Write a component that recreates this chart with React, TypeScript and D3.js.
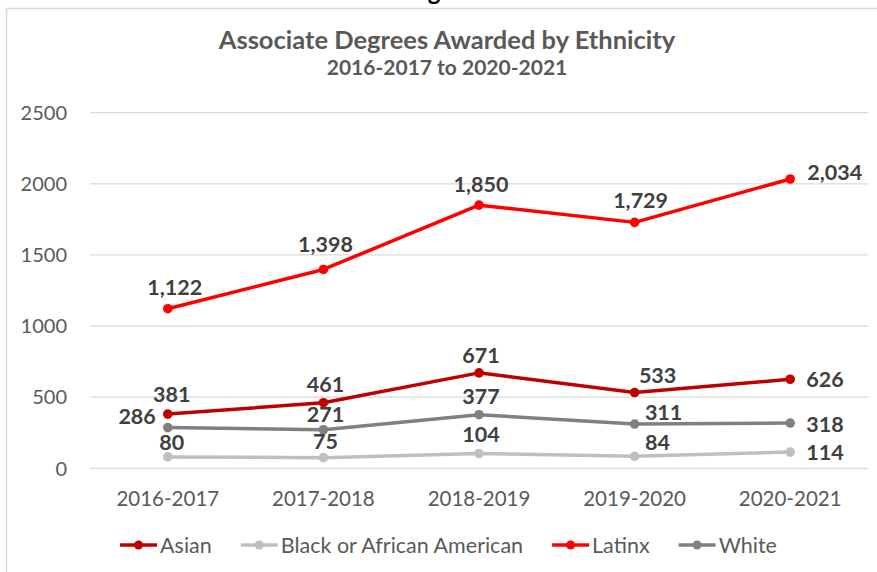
import React, { useEffect, useRef } from "react";
import * as d3 from "d3";

const categories = ["2016-2017", "2017-2018", "2018-2019", "2019-2020", "2020-2021"];
const seriesNames = ["Asian", "Black or African American", "Latinx", "White"];
const asian = [381, 461, 671, 533, 626];
const black = [80, 75, 104, 84, 114];
const latinx = [1122, 1398, 1850, 1729, 2034];
const white = [286, 271, 377, 311, 318];
const yTicks = [0, 500, 1000, 1500, 2000, 2500];
const title = "Associate Degrees Awarded by Ethnicity";
const subtitle = "2016-2017 to 2020-2021";

const seriesColors = ["#C00000", "#BFBFBF", "#FF0000", "#808080"];
// label placement per series: [dx, dy(baseline offset), anchor]
type Place = [number, number, string];
const labelPlaces: Place[][] = [
  [[4, -12, "middle"], [2, -11, "middle"], [2, -10, "middle"], [23, -9, "middle"], [16, 8, "start"]],
  [[4, -7, "middle"], [2, -9, "middle"], [2, -12, "middle"], [23, -6, "middle"], [16, 8, "start"]],
  [[7, -14, "middle"], [2, -17, "middle"], [2, -13, "middle"], [6, -14, "middle"], [17, 1, "start"]],
  [[-12, -4, "end"], [2, -8, "middle"], [2, -11, "middle"], [29, -4, "middle"], [16, 9, "start"]],
];

export default function App() {
  const ref = useRef<SVGSVGElement | null>(null);
  useEffect(() => {
    const svg = d3.select(ref.current);
    svg.selectAll("*").remove();
    const W = 877, H = 572;
    const font = "Lato, 'Open Sans', sans-serif";
    svg.append("rect").attr("width", W).attr("height", H).attr("fill", "#fff");
    // cut-off page caption
    svg.append("text").attr("x", 408).attr("y", 0).attr("font-family", font)
      .attr("font-weight", 700).attr("font-size", 24).attr("fill", "#000").text("Fig. 30");
    // chart border
    svg.append("rect").attr("x", 6.5).attr("y", 8.5).attr("width", 950).attr("height", 650)
      .attr("fill", "none").attr("stroke", "#D9D9D9").attr("stroke-width", 1.5);

    const cx = 447;
    svg.append("text").attr("x", cx).attr("y", 49).attr("text-anchor", "middle")
      .attr("font-family", font).attr("font-weight", 700).attr("font-size", 25.5)
      .attr("fill", "#595959").text(title);
    svg.append("text").attr("x", cx).attr("y", 75).attr("text-anchor", "middle")
      .attr("font-family", font).attr("font-weight", 700).attr("font-size", 21)
      .attr("fill", "#595959").text(subtitle);

    const x = d3.scaleBand().domain(categories).range([90, 868]);
    const y = d3.scaleLinear().domain([0, 2500]).range([468.3, 112.7]);
    const xc = (c: string) => (x(c) as number) + x.bandwidth() / 2;

    const g = svg.append("g");
    yTicks.forEach((t) => {
      g.append("line").attr("x1", 90).attr("x2", 868).attr("y1", y(t)).attr("y2", y(t))
        .attr("stroke", "#D9D9D9").attr("stroke-width", 1.2);
      g.append("text").attr("x", 67).attr("y", y(t)).attr("dy", "0.36em").attr("text-anchor", "end")
        .attr("font-family", font).attr("font-size", 20).attr("fill", "#595959").text(String(t));
    });
    categories.forEach((c) => {
      g.append("text").attr("x", xc(c)).attr("y", 506).attr("text-anchor", "middle")
        .attr("font-family", font).attr("font-size", 20.5).attr("fill", "#595959").text(c);
    });

    const allSeries = [asian, black, latinx, white];
    const drawOrder = [3, 1, 0, 2];
    const line = d3.line<number>().x((_, i) => xc(categories[i])).y((d) => y(d));
    drawOrder.forEach((si) => {
      const vals = allSeries[si];
      g.append("path").attr("d", line(vals) as string).attr("fill", "none")
        .attr("stroke", seriesColors[si]).attr("stroke-width", 3.5).attr("stroke-linejoin", "round");
      vals.forEach((v, i) => {
        g.append("circle").attr("cx", xc(categories[i])).attr("cy", y(v)).attr("r", 4.8)
          .attr("fill", seriesColors[si]);
      });
    });
    const fmt = d3.format(",");
    allSeries.forEach((vals, si) => {
      vals.forEach((v, i) => {
        const [dx, dy, anchor] = labelPlaces[si][i];
        g.append("text").attr("x", xc(categories[i]) + dx).attr("y", y(v) + dy)
          .attr("text-anchor", anchor).attr("font-family", font).attr("font-weight", 700)
          .attr("font-size", 21.5).attr("fill", "#404040").text(fmt(v));
      });
    });

    // legend
    const lg = svg.append("g");
    const items: { w: number; node: any }[] = [];
    let total = 0;
    seriesNames.forEach((n, i) => {
      const it = lg.append("g");
      it.append("line").attr("x1", 0).attr("x2", 37).attr("y1", 0).attr("y2", 0)
        .attr("stroke", seriesColors[i]).attr("stroke-width", 3.5);
      it.append("circle").attr("cx", 18.5).attr("cy", 0).attr("r", 4.5).attr("fill", seriesColors[i]);
      const t = it.append("text").attr("x", 40).attr("y", 0).attr("dy", "0.36em")
        .attr("font-family", font).attr("font-size", 21.5).attr("fill", "#595959").text(n);
      const w = 40 + (t.node() as SVGTextElement).getComputedTextLength();
      items.push({ w, node: it });
      total += w;
    });
    const gap = 29;
    total += gap * (items.length - 1);
    let lx = 448.5 - total / 2;
    items.forEach((it) => {
      it.node.attr("transform", `translate(${lx},545)`);
      lx += it.w + gap;
    });
  }, []);
  return (
    <svg ref={ref} width={877} height={572}
      style={{ position: "absolute", left: 0, top: 0, display: "block" }} />
  );
}
